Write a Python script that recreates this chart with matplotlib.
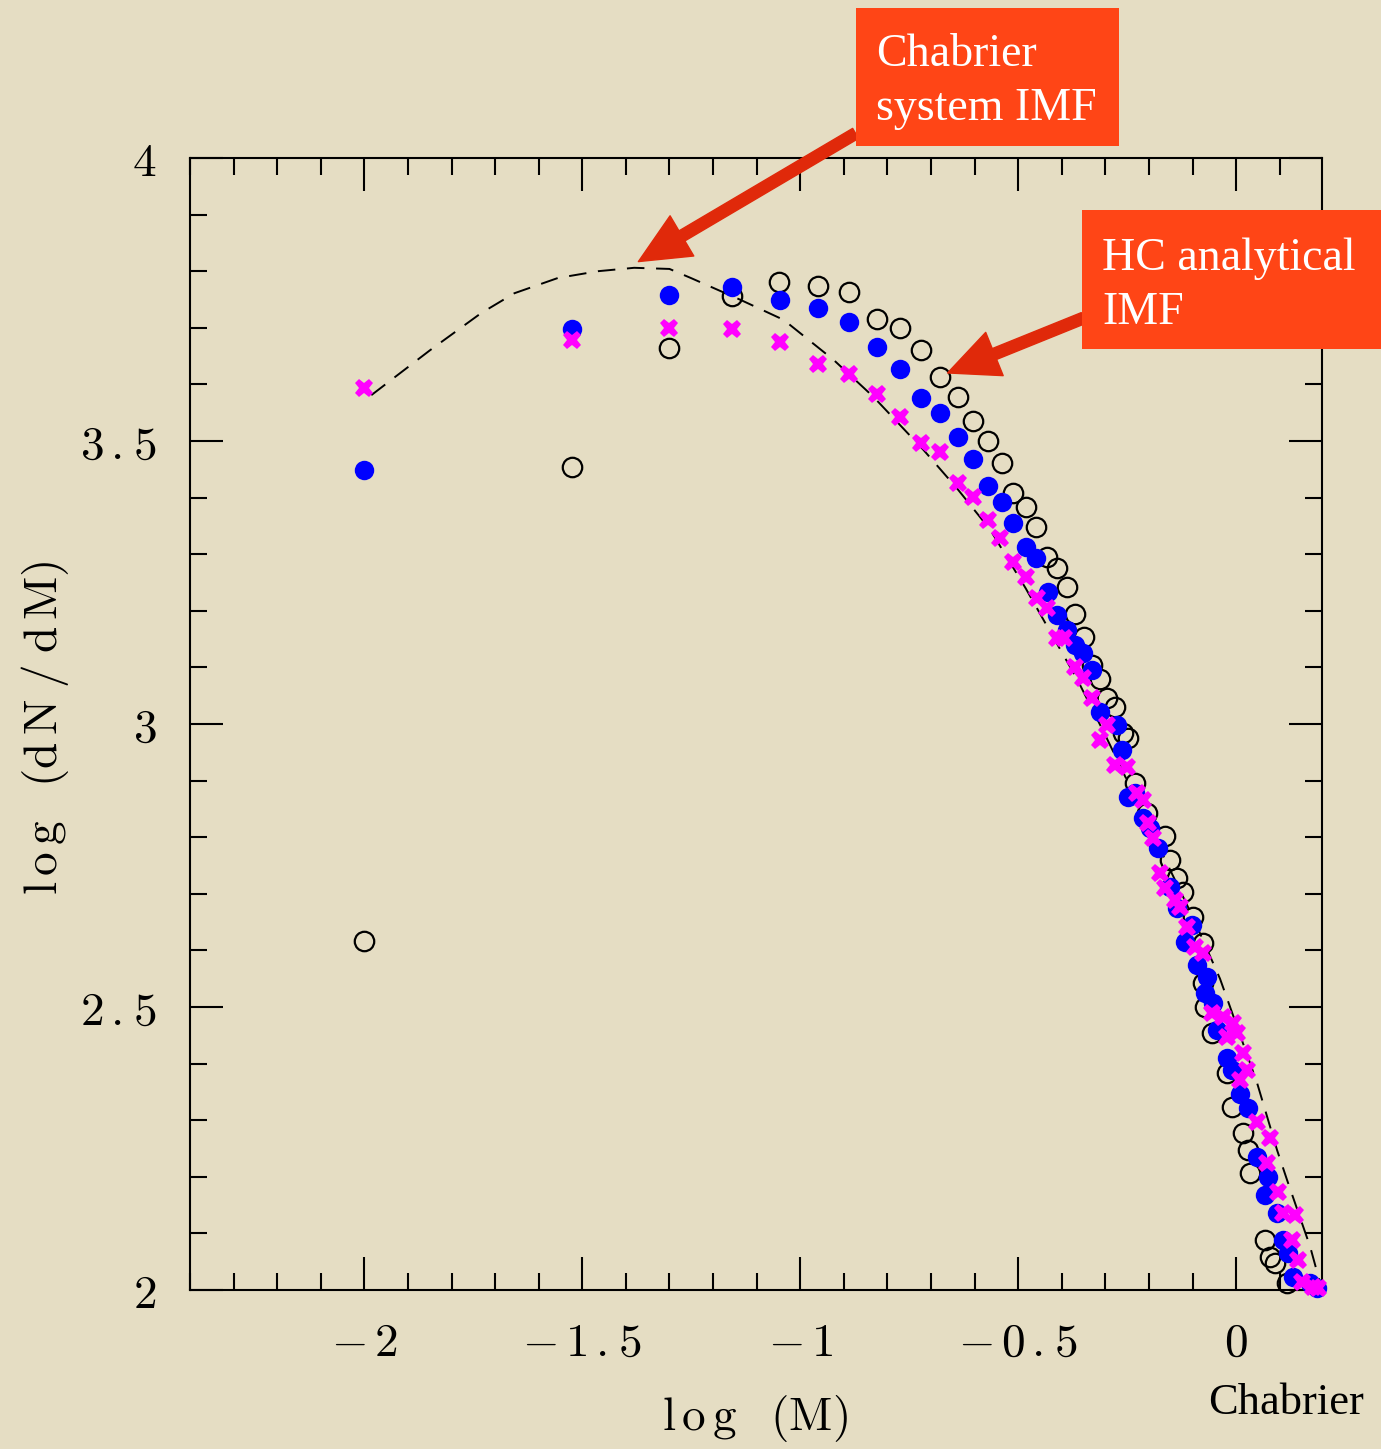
import matplotlib
matplotlib.use("Agg")
import matplotlib.pyplot as plt
from matplotlib.patches import Rectangle, FancyArrowPatch
from matplotlib.ticker import MultipleLocator

plt.rcParams["mathtext.fontset"] = "cm"

# Chabrier system IMF (dashed curve)
chab_x = [-1.984, -1.85, -1.732, -1.656, -1.556, -1.464, -1.381, -1.30, -1.251, -1.136,
          -1.038, -0.923, -0.832, -0.717, -0.639, -0.564, -0.483, -0.403, -0.364, -0.30,
          -0.20, -0.10, -0.037, 0.0, 0.048, 0.094, 0.117, 0.170, 0.197]
chab_y = [3.581, 3.66, 3.726, 3.761, 3.788, 3.800, 3.806, 3.804, 3.788, 3.749,
          3.714, 3.643, 3.578, 3.484, 3.415, 3.343, 3.240, 3.131, 3.078, 2.98,
          2.82, 2.66, 2.55, 2.47, 2.366, 2.247, 2.194, 2.076, 2.0]

# open black circles
open_x = [-2.000, -1.523, -1.301, -1.157, -1.049, -0.960, -0.887, -0.825, -0.772, -0.722,
          -0.680, -0.639, -0.603, -0.570, -0.538, -0.511, -0.483, -0.458, -0.433, -0.410,
          -0.389, -0.369, -0.348, -0.330, -0.312, -0.296, -0.279, -0.259, -0.247, -0.231,
          -0.204, -0.163, -0.151, -0.135, -0.121, -0.099, -0.076, -0.076, -0.071, -0.055,
          -0.021, -0.009, 0.016, 0.027, 0.032, 0.066, 0.078, 0.089, 0.117]
open_y = [2.617, 3.454, 3.664, 3.756, 3.781, 3.774, 3.763, 3.716, 3.700, 3.661,
          3.613, 3.578, 3.535, 3.500, 3.461, 3.408, 3.383, 3.348, 3.295, 3.276,
          3.242, 3.194, 3.154, 3.104, 3.080, 3.046, 3.030, 2.984, 2.975, 2.896,
          2.843, 2.802, 2.760, 2.728, 2.703, 2.659, 2.613, 2.542, 2.500, 2.454,
          2.383, 2.323, 2.277, 2.247, 2.207, 2.088, 2.058, 2.048, 2.012]

# filled blue circles
blue_x = [-2.000, -1.523, -1.301, -1.157, -1.047, -0.960, -0.887, -0.825, -0.772, -0.724,
          -0.680, -0.639, -0.603, -0.570, -0.538, -0.511, -0.483, -0.460, -0.431, -0.410,
          -0.387, -0.369, -0.351, -0.330, -0.312, -0.273, -0.261, -0.247, -0.231, -0.213,
          -0.197, -0.179, -0.151, -0.135, -0.101, -0.117, -0.089, -0.066, -0.071, -0.053,
          -0.044, -0.021, -0.009, 0.009, 0.027, 0.048, 0.073, 0.066, 0.094, 0.108,
          0.119, 0.131, 0.170, 0.186]
blue_y = [3.449, 3.698, 3.758, 3.772, 3.749, 3.735, 3.710, 3.666, 3.627, 3.576,
          3.549, 3.507, 3.468, 3.420, 3.392, 3.355, 3.313, 3.293, 3.233, 3.193,
          3.166, 3.140, 3.125, 3.095, 3.021, 2.998, 2.954, 2.871, 2.878, 2.834,
          2.816, 2.781, 2.712, 2.675, 2.645, 2.615, 2.574, 2.553, 2.525, 2.507,
          2.459, 2.410, 2.389, 2.346, 2.322, 2.235, 2.200, 2.168, 2.136, 2.088,
          2.065, 2.023, 2.012, 2.004]

# magenta crosses
mag_x = [-2.000, -1.523, -1.301, -1.157, -1.047, -0.960, -0.887, -0.825, -0.772, -0.724,
         -0.680, -0.639, -0.603, -0.570, -0.541, -0.511, -0.483, -0.456, -0.433, -0.410,
         -0.396, -0.369, -0.351, -0.330, -0.296, -0.312, -0.277, -0.250, -0.227, -0.213,
         -0.202, -0.190, -0.174, -0.163, -0.140, -0.128, -0.112, -0.094, -0.076, -0.055,
         -0.030, -0.007, -0.021, 0.002, 0.016, 0.025, 0.009, 0.048, 0.078, 0.071,
         0.096, 0.108, 0.135, 0.128, 0.142, 0.151, 0.176, 0.188]
mag_y = [3.594, 3.678, 3.700, 3.698, 3.675, 3.636, 3.618, 3.583, 3.542, 3.496,
         3.481, 3.426, 3.401, 3.360, 3.329, 3.286, 3.260, 3.223, 3.205, 3.152,
         3.152, 3.101, 3.081, 3.046, 2.998, 2.972, 2.928, 2.924, 2.878, 2.866,
         2.825, 2.799, 2.737, 2.710, 2.689, 2.677, 2.641, 2.606, 2.595, 2.489,
         2.482, 2.472, 2.447, 2.454, 2.419, 2.389, 2.371, 2.297, 2.269, 2.224,
         2.173, 2.136, 2.133, 2.088, 2.053, 2.014, 2.005, 2.004]

xtick_vals = [-2, -1.5, -1, -0.5, 0]
xtick_text = [r"${-}\,2$", r"${-}\,1\hspace{0.16}.\hspace{0.04}5$", r"${-}\,1$",
              r"${-}\,0\hspace{0.16}.\hspace{0.04}5$", r"$0$"]
ytick_vals = [2, 2.5, 3, 3.5, 4]
ytick_text = [r"$2$", r"$2\hspace{0.16}.\hspace{0.04}5$", r"$3$",
              r"$3\hspace{0.16}.\hspace{0.04}5$", r"$4$"]

bg = "#e5ddc3"
box_col = "#ff4516"
arrow_col = "#e0290a"
serif = ["Liberation Serif", "DejaVu Serif"]

fig = plt.figure(figsize=(13.81, 14.49), dpi=100, facecolor=bg)
ax = fig.add_axes([190 / 1381, 1 - 1290 / 1449, 1132 / 1381, 1132 / 1449])
ax.set_facecolor(bg)

ax.plot(chab_x, chab_y, color="black", lw=1.4, linestyle=(0, (9, 6)), zorder=2)
ax.plot(open_x, open_y, "o", ms=14, mfc="none", mec="black", mew=1.6, zorder=3, clip_on=False)
ax.plot(blue_x, blue_y, "o", ms=14, mfc="#0000ff", mec="#0000ff", mew=0, zorder=4, clip_on=False)
ax.plot(mag_x, mag_y, "X", ms=13.5, mfc="#ff00ff", mec="#ff00ff", mew=0, zorder=5, clip_on=False)

ax.set_xlim(-2.4, 0.197)
ax.set_ylim(2, 4)
ax.xaxis.set_minor_locator(MultipleLocator(0.1))
ax.yaxis.set_minor_locator(MultipleLocator(0.1))
ax.set_xticks(xtick_vals)
ax.set_xticklabels(xtick_text)
ax.set_yticks(ytick_vals)
ax.set_yticklabels(ytick_text)
ax.tick_params(which="both", direction="in", top=True, right=True, width=1.5, color="black")
ax.tick_params(which="major", length=24, labelsize=34)
ax.tick_params(axis="x", which="major", pad=22)
ax.tick_params(axis="y", which="major", pad=24)
ax.tick_params(which="minor", length=12)
for sp in ax.spines.values():
    sp.set_linewidth(1.5)

fig.text(45 / 1381, 1 - 728 / 1449, r"$\mathrm{l\,o\,g}\;\;\;(\mathrm{d\,N}\;/\;\mathrm{d\,M})$",
         rotation=90, ha="center", va="center", fontsize=34)
fig.text(755 / 1381, 1 - 1418 / 1449, r"$\mathrm{l\,o\,g}\;\;\;(\mathrm{M})$",
         ha="center", va="center", fontsize=34)
fig.text(1208 / 1381, 1 - 1403 / 1449, "Chabrier", ha="left", va="center",
         fontsize=32, family=serif)

# annotation boxes
fig.patches.append(Rectangle((856 / 1381, 1 - 146 / 1449), 263 / 1381, 138 / 1449,
                             transform=fig.transFigure, facecolor=box_col, edgecolor="none", zorder=10))
fig.text(876 / 1381, 1 - 82 / 1449, "Chabrier\nsystem IMF", color="white", fontsize=33,
         family=serif, ha="left", va="center", linespacing=1.35, zorder=11)
fig.patches.append(Rectangle((1082 / 1381, 1 - 349 / 1449), 299 / 1381, 139 / 1449,
                             transform=fig.transFigure, facecolor=box_col, edgecolor="none", zorder=10))
fig.text(1102 / 1381, 1 - 286 / 1449, "HC analytical\nIMF", color="white", fontsize=33,
         family=serif, ha="left", va="center", linespacing=1.35, zorder=11)

for start, end in [((858, 132), (636, 263)), ((1086, 317), (945, 374))]:
    arr = FancyArrowPatch((start[0] / 1381, 1 - start[1] / 1449), (end[0] / 1381, 1 - end[1] / 1449),
                          transform=fig.transFigure, arrowstyle="simple,head_length=2.6,head_width=2.4,tail_width=0.6",
                          mutation_scale=14, color=arrow_col, zorder=9)
    fig.patches.append(arr)

fig.savefig("out.png", dpi=100, facecolor=bg)
